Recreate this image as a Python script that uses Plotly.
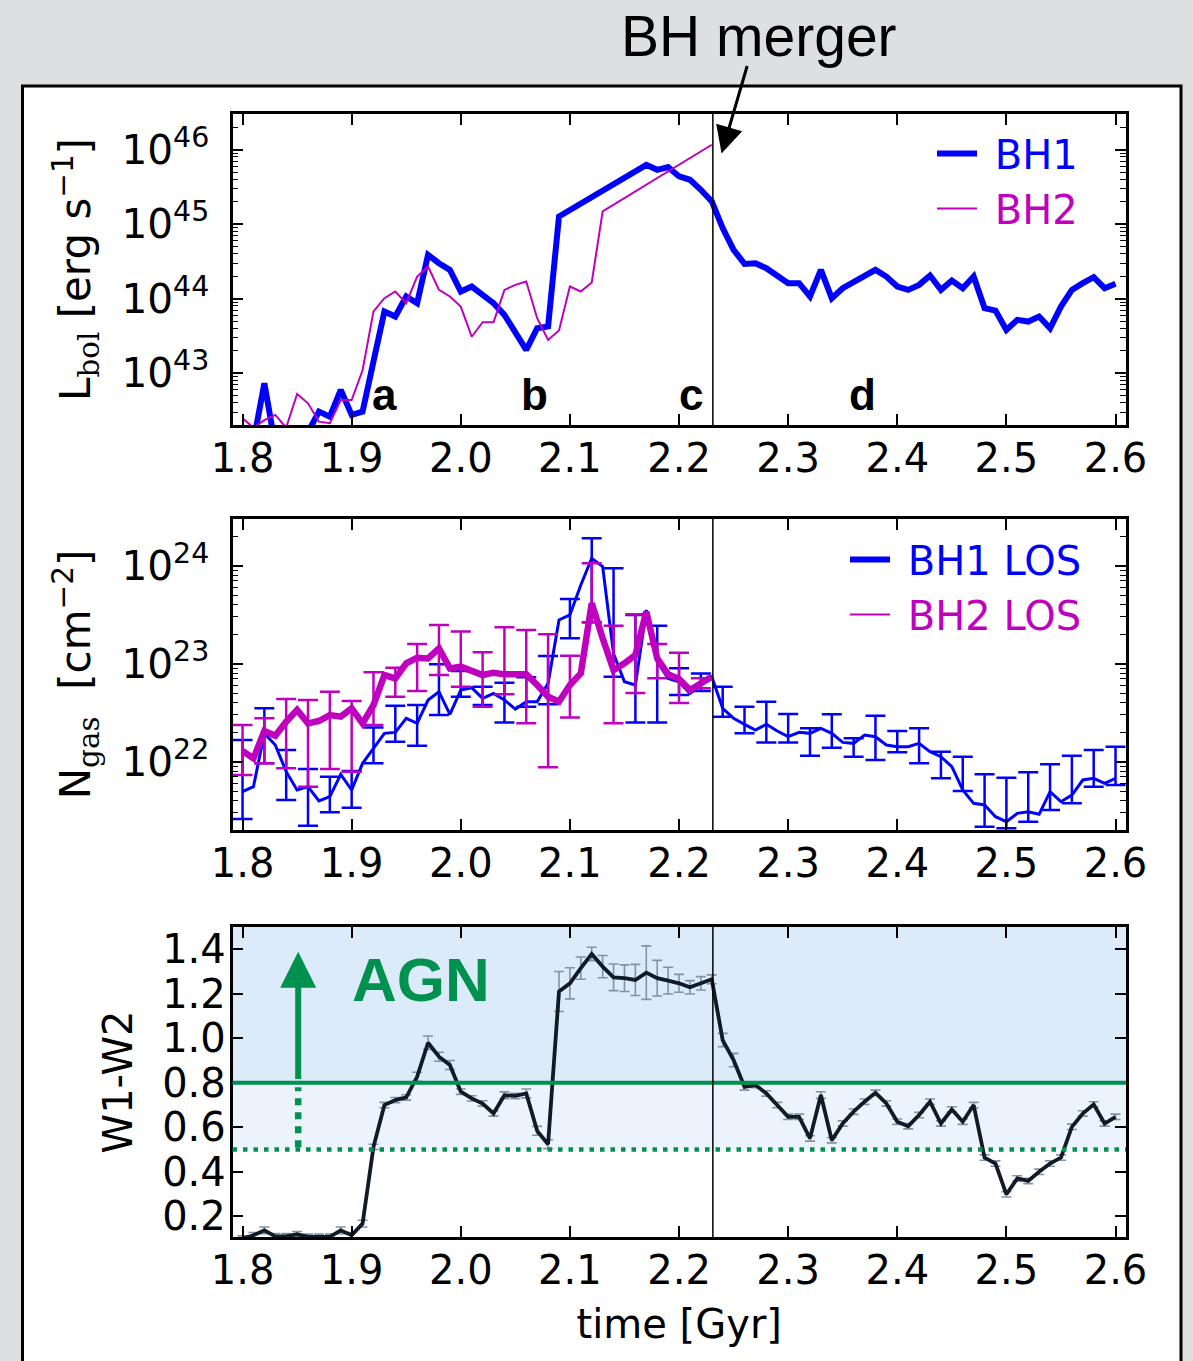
import numpy as np
import plotly.graph_objects as go

# ---------------- data ----------------
times = [1.80, 1.81, 1.82, 1.83, 1.84, 1.85, 1.86, 1.87, 1.88, 1.89,
         1.90, 1.91, 1.92, 1.93, 1.94, 1.95, 1.96, 1.97, 1.98, 1.99,
         2.00, 2.01, 2.02, 2.03, 2.04, 2.05, 2.06, 2.07, 2.08, 2.09,
         2.10, 2.11, 2.12, 2.13, 2.14, 2.15, 2.16, 2.17, 2.18, 2.19,
         2.20, 2.21, 2.22, 2.23, 2.24, 2.25, 2.26, 2.27, 2.28, 2.29,
         2.30, 2.31, 2.32, 2.33, 2.34, 2.35, 2.36, 2.37, 2.38, 2.39,
         2.40, 2.41, 2.42, 2.43, 2.44, 2.45, 2.46, 2.47, 2.48, 2.49,
         2.50, 2.51, 2.52, 2.53, 2.54, 2.55, 2.56, 2.57, 2.58, 2.59, 2.60]

merger_time = 2.231

# log10 L_bol [erg/s]
log_lbol_bh1 = [42.0, 42.08, 42.865, 42.03, 41.9, 41.9, 42.21, 42.485, 42.417, 42.776,
                42.44, 42.485, 43.16, 43.828, 43.761, 44.03, 43.94, 44.589, 44.477, 44.388,
                44.097, 44.164, 44.052, 43.94, 43.783, 43.559, 43.313, 43.604, 43.627, 45.104,
                None, None, None, None, None, None, None, 45.798, 45.731, 45.767,
                45.642, 45.597, 45.463, 45.306, 44.948, 44.657, 44.468, 44.477, 44.41, 44.321,
                44.209, 44.209, 44.03, 44.388, 44.007, 44.141, 44.231, 44.321, 44.388, 44.298,
                44.164, 44.119, 44.186, 44.312, 44.119, 44.244, 44.141, 44.298, 43.873, 43.841,
                43.582, 43.716, 43.694, 43.761, 43.604, 43.895, 44.119, 44.209, 44.289, 44.141, 44.2]
log_lbol_bh2 = [42.395, 42.27, 42.37, 42.44, 42.27, 42.722, 42.596, 42.35, 42.33, 42.64,
                42.64, 43.04, 43.83, 44.007, 44.097, 43.94, 44.298, 44.433, 44.119, 44.03,
                43.895, 43.49, 43.685, 43.685, 44.119, 44.186, 44.231, 43.739, 43.447, 43.573,
                44.164, 44.097, 44.218, 45.172, None, None, None, None, None, None,
                None, None, None, 46.067]

# log10 N_gas [cm^-2]
log_ngas_bh1 = [21.694, 21.745, 22.289, 22.17, 21.898, 21.711, 21.745, 21.599, 21.643, 21.871,
                21.711, 21.983, 22.136, 22.289, 22.299, 22.442, 22.391, 22.629, 22.714, 22.483,
                22.731, 22.755, 22.646, 22.697, 22.629, 22.537, 22.612, 22.612, 22.799, 23.446,
                23.497, 23.803, 24.075, 23.99, 23.1, 22.816, 22.782, 23.548, 23.02, 22.85,
                22.816, 22.697, 22.782, 22.867, 22.544, 22.442, 22.381, 22.323, 22.381, 22.313,
                22.255, 22.299, 22.289, 22.34, 22.289, 22.197, 22.187, 22.272, 22.255, 22.17,
                22.153, 22.153, 22.187, 22.102, 22.051, 21.949, 21.711, 21.575, 21.558, 21.439,
                21.388, 21.473, 21.49, 21.463, 21.694, 21.592, 21.66, 21.813, 21.83, 21.779, 21.83]
log_ngas_bh2 = [22.109, 22.034, 22.313, 22.265, 22.408, 22.527, 22.391, 22.415, 22.476, 22.459,
                22.544, 22.391, 22.578, 22.884, 22.85, 23.003, 23.061, 23.054, 23.156, 22.952,
                22.969, 22.925, 22.884, 22.908, 22.891, 22.891, 22.891, 22.782, 22.663, 22.612,
                22.782, 22.901, 23.616, 23.259, 22.935, 23.003, 23.088, 23.531, 23.054, 22.891,
                22.844, 22.731, 22.799, 22.867]

# error bars (every second snapshot), log10 upper / lower bounds
err_times_bh1 = [1.80, 1.82, 1.84, 1.86, 1.88, 1.90, 1.92, 1.94, 1.96, 1.98,
                 2.00, 2.02, 2.04, 2.06, 2.08, 2.10, 2.12, 2.14, 2.16, 2.18,
                 2.20, 2.22, 2.24, 2.26, 2.28, 2.30, 2.32, 2.34, 2.36, 2.38,
                 2.40, 2.42, 2.44, 2.46, 2.48, 2.50, 2.52, 2.54, 2.56, 2.58, 2.60]
log_ngas_bh1_hi = [22.221, 22.544, 22.119, 21.925, 21.847, 21.905, 22.350, 22.571, 22.578, 22.993,
                   22.925, 22.765, 22.806, 22.861, 23.078, 23.66, 24.279, 23.973, 23.497, 23.388,
                   22.952, 22.90, 22.765, 22.561, 22.612, 22.486, 22.34, 22.483, 22.238, 22.469,
                   22.313, 22.34, 22.102, 22.051, 21.871, 21.837, 21.891, 21.973, 22.061, 22.119, 22.153]
log_ngas_bh1_lo = [21.415, 21.983, 21.609, 21.347, 21.483, 21.531, 21.983, 22.204, 22.163, 22.476,
                   22.663, 22.578, 22.401, 22.561, 22.585, 23.259, 23.422, 22.867, 22.401, 22.401,
                   22.68, 22.72, 22.459, 22.289, 22.197, 22.197, 22.061, 22.143, 22.051, 22.017,
                   22.095, 21.983, 21.83, 21.701, 21.337, 21.32, 21.388, 21.507, 21.575, 21.745, 21.762]
err_times_bh2 = [1.80, 1.82, 1.84, 1.86, 1.88, 1.90, 1.92, 1.94, 1.96, 1.98,
                 2.00, 2.02, 2.04, 2.06, 2.08, 2.10, 2.12, 2.14, 2.16, 2.18, 2.20, 2.22]
log_ngas_bh2_hi = [22.374, 22.442, 22.639, 22.629, 22.714, 22.619, 22.912, 22.959, 23.201, 23.395,
                   23.327, 23.116, 23.371, 23.344, 23.299, 23.082, 24.024, 23.388, 23.503, 23.2,
                   23.112, 22.85]
log_ngas_bh2_lo = [21.864, 21.983, 21.932, 21.745, 21.925, 21.898, 22.374, 22.663, 22.721, 22.884,
                   22.765, 22.561, 22.687, 22.391, 21.942, 22.452, 23.422, 22.391, 22.7, 22.85,
                   22.6, 22.75]

# WISE colour
w1w2 = [0.10, 0.115, 0.137, 0.11, 0.11, 0.12, 0.108, 0.108, 0.108, 0.137,
        0.115, 0.167, 0.512, 0.70, 0.722, 0.734, 0.827, 0.98, 0.917, 0.88,
        0.76, 0.73, 0.707, 0.662, 0.744, 0.741, 0.752, 0.584, 0.524, 1.21,
        1.247, 1.315, 1.379, 1.322, 1.274, 1.27, 1.262, 1.295, 1.27, 1.259,
        1.247, 1.229, 1.247, 1.265, 0.992, 0.902, 0.782, 0.79, 0.752, 0.70,
        0.647, 0.647, 0.55, 0.745, 0.542, 0.617, 0.67, 0.715, 0.755, 0.707,
        0.625, 0.605, 0.655, 0.715, 0.617, 0.68, 0.625, 0.70, 0.464, 0.437,
        0.299, 0.37, 0.359, 0.40, 0.437, 0.464, 0.602, 0.662, 0.703, 0.617, 0.647]
w1w2_err = [0.012, 0.012, 0.015, 0.012, 0.012, 0.012, 0.012, 0.012, 0.012, 0.015,
            0.012, 0.015, 0.012, 0.012, 0.012, 0.012, 0.02, 0.03, 0.02, 0.02,
            0.012, 0.012, 0.012, 0.012, 0.015, 0.012, 0.02, 0.02, 0.02, 0.09,
            0.07, 0.05, 0.03, 0.05, 0.06, 0.06, 0.07, 0.12, 0.08, 0.06,
            0.04, 0.03, 0.03, 0.02, 0.03, 0.03, 0.015, 0.012, 0.012, 0.012,
            0.012, 0.012, 0.012, 0.015, 0.012, 0.012, 0.012, 0.012, 0.012, 0.012,
            0.012, 0.012, 0.012, 0.012, 0.012, 0.012, 0.012, 0.012, 0.012, 0.012,
            0.012, 0.012, 0.012, 0.012, 0.012, 0.012, 0.012, 0.012, 0.012, 0.012, 0.012]

agn_cut_strict = 0.8
agn_cut_loose = 0.5
stage_labels = ["a", "b", "c", "d"]
stage_times = [1.93, 2.068, 2.211, 2.368]

# ---------------- helpers ----------------
def to_lin(arr):
    return [None if v is None else 10 ** v for v in arr]

def err_parts(times_sub, hi, lo, center_log):
    idx = [times.index(t) for t in times_sub]
    cen = np.array([10 ** center_log[i] for i in idx])
    plus = np.clip(10 ** np.array(hi) - cen, 0, None)
    minus = np.clip(cen - 10 ** np.array(lo), 0, None)
    return list(cen), list(plus), list(minus)

BLUE = "#0000ff"
MAG = "#bf00bf"
GREEN = "#00914f"
DARK = "#101b27"
GREY = "#8393a5"
FONT = "DejaVu Sans"
NB = "\u00a0"

W, H = 1193, 1361
def px_x(x):
    return x / W
def px_y(y):
    return 1 - y / H

fig = go.Figure()

# ---- panel 1 ----
fig.add_trace(go.Scatter(x=times, y=to_lin(log_lbol_bh1), mode="lines", connectgaps=True,
                         line=dict(color=BLUE, width=6),
                         name=NB + "<span style='color:#0000ff'>BH1</span>",
                         xaxis="x", yaxis="y", legend="legend"))
fig.add_trace(go.Scatter(x=times[:len(log_lbol_bh2)], y=to_lin(log_lbol_bh2), mode="lines",
                         connectgaps=True, line=dict(color=MAG, width=2),
                         name=NB + "<span style='color:#bf00bf'>BH2</span>",
                         xaxis="x", yaxis="y", legend="legend"))

# ---- panel 2 ----
c1, p1, m1 = err_parts(err_times_bh1, log_ngas_bh1_hi, log_ngas_bh1_lo, log_ngas_bh1)
c2, p2, m2 = err_parts(err_times_bh2, log_ngas_bh2_hi, log_ngas_bh2_lo, log_ngas_bh2)
fig.add_trace(go.Scatter(x=err_times_bh1, y=c1, mode="markers", marker=dict(size=1, opacity=0),
                         error_y=dict(type="data", symmetric=False, array=p1, arrayminus=m1,
                                      color=BLUE, thickness=2.5, width=10),
                         showlegend=False, hoverinfo="skip", xaxis="x2", yaxis="y2"))
fig.add_trace(go.Scatter(x=times, y=to_lin(log_ngas_bh1), mode="lines",
                         line=dict(color=BLUE, width=3), showlegend=False,
                         xaxis="x2", yaxis="y2"))
fig.add_trace(go.Scatter(x=err_times_bh2, y=c2, mode="markers", marker=dict(size=1, opacity=0),
                         error_y=dict(type="data", symmetric=False, array=p2, arrayminus=m2,
                                      color=MAG, thickness=2.5, width=10),
                         showlegend=False, hoverinfo="skip", xaxis="x2", yaxis="y2"))
fig.add_trace(go.Scatter(x=times[:len(log_ngas_bh2)], y=to_lin(log_ngas_bh2), mode="lines",
                         line=dict(color=MAG, width=6.5), showlegend=False,
                         xaxis="x2", yaxis="y2"))
# legend entries for panel 2
fig.add_trace(go.Scatter(x=[None], y=[None], mode="lines", line=dict(color=BLUE, width=6),
                         name=NB + "<span style='color:#0000ff'>BH1 LOS</span>",
                         xaxis="x2", yaxis="y2", legend="legend2"))
fig.add_trace(go.Scatter(x=[None], y=[None], mode="lines", line=dict(color=MAG, width=2),
                         name=NB + "<span style='color:#bf00bf'>BH2 LOS</span>",
                         xaxis="x2", yaxis="y2", legend="legend2"))

# ---- panel 3 ----
fig.add_trace(go.Scatter(x=times, y=w1w2, mode="markers", marker=dict(size=1, opacity=0),
                         error_y=dict(type="data", array=w1w2_err, color=GREY,
                                      thickness=1.6, width=5),
                         showlegend=False, hoverinfo="skip", xaxis="x3", yaxis="y3"))
fig.add_trace(go.Scatter(x=times, y=w1w2, mode="lines", line=dict(color=DARK, width=3.8),
                         showlegend=False, xaxis="x3", yaxis="y3"))

# ---------------- axes ----------------
xdom = [px_x(232.5), px_x(1126)]
dom1 = [px_y(425), px_y(114)]
dom2 = [px_y(830), px_y(519)]
dom3 = [px_y(1237), px_y(927)]

common = dict(showgrid=False, zeroline=False, showline=True, linecolor="black", linewidth=2.5,
              mirror="ticks", ticks="inside", ticklen=11, tickwidth=1.5, tickcolor="black",
              automargin=False)
xcommon = dict(common, range=[1.7908, 2.6096], tick0=1.8, dtick=0.1, tickformat=".1f",
               tickfont=dict(family=FONT, size=40, color="black"), ticklabelstandoff=-4)

fig.update_layout(
    xaxis=dict(xcommon, domain=xdom, anchor="y"),
    xaxis2=dict(xcommon, domain=xdom, anchor="y2"),
    xaxis3=dict(xcommon, domain=xdom, anchor="y3",
                title=dict(text="time [Gyr]", font=dict(family=FONT, size=40, color="black"),
                           standoff=19)),
    yaxis=dict(common, type="log", domain=dom1, anchor="x", range=[42.305, 46.48], dtick=1,
               exponentformat="power",
               tickfont=dict(family=FONT, size=32.5, color="black"), ticklabelstandoff=14,
               minor=dict(ticks="inside", ticklen=6, tickwidth=1.2, tickcolor="black", dtick="D1"),
               title=dict(text="L<sub><span style='font-family:DejaVu Serif'>bol</span></sub> [erg s<sup>−1</sup>]",
                          font=dict(family=FONT, size=42, color="black"), standoff=18)),
    yaxis2=dict(common, type="log", domain=dom2, anchor="x2", range=[21.303, 24.476], dtick=1,
                exponentformat="power",
                tickfont=dict(family=FONT, size=32.5, color="black"), ticklabelstandoff=14,
                minor=dict(ticks="inside", ticklen=6, tickwidth=1.2, tickcolor="black", dtick="D1"),
                title=dict(text="N<sub><span style='font-family:DejaVu Serif'>gas</span></sub>  [cm<sup>−2</sup>]",
                           font=dict(family=FONT, size=42, color="black"), standoff=18)),
    yaxis3=dict(common, domain=dom3, anchor="x3", range=[0.107, 1.5], tick0=0.2, dtick=0.2,
                tickformat=".1f", tickfont=dict(family=FONT, size=40, color="black"),
                ticklabelstandoff=-4,
                title=dict(text="W1-W2", font=dict(family=FONT, size=40, color="black"),
                           standoff=18)),
)

# ---------------- shapes ----------------
shapes = [
    dict(type="rect", xref="paper", yref="paper", x0=px_x(22.5), x1=px_x(1181),
         y0=-0.05, y1=px_y(86), fillcolor="white", line=dict(color="black", width=3),
         layer="below"),
    dict(type="rect", xref="x3 domain", yref="y3", x0=0, x1=1, y0=agn_cut_strict, y1=1.5,
         fillcolor="#dbebfa", line=dict(width=0), layer="below"),
    dict(type="rect", xref="x3 domain", yref="y3", x0=0, x1=1, y0=agn_cut_loose, y1=agn_cut_strict,
         fillcolor="#ebf4fd", line=dict(width=0), layer="below"),
    dict(type="line", xref="x3 domain", yref="y3", x0=0, x1=1, y0=agn_cut_strict, y1=agn_cut_strict,
         line=dict(color=GREEN, width=4)),
    dict(type="line", xref="x3 domain", yref="y3", x0=0, x1=1, y0=agn_cut_loose, y1=agn_cut_loose,
         line=dict(color=GREEN, width=4.5, dash="4.5px,6px")),
    dict(type="line", xref="x3", yref="y3", x0=1.851, x1=1.851, y0=agn_cut_loose + 0.01,
         y1=agn_cut_strict - 0.02, line=dict(color=GREEN, width=6.5, dash="7px,7px")),
]
for xr, yr in [("x", "y domain"), ("x2", "y2 domain"), ("x3", "y3 domain")]:
    shapes.append(dict(type="line", xref=xr, yref=yr, x0=merger_time, x1=merger_time, y0=0, y1=1,
                       line=dict(color="black", width=1.5)))

# ---------------- annotations ----------------
annotations = []
for lab, t in zip(stage_labels, stage_times):
    annotations.append(dict(x=t, y=42.72, xref="x", yref="y", text="<b>%s</b>" % lab,
                            showarrow=False, xanchor="center", yanchor="middle",
                            font=dict(family="Liberation Sans", size=44, color="black")))
annotations.append(dict(x=px_x(759), y=px_y(36), xref="paper", yref="paper", text="BH merger",
                        showarrow=False, xanchor="center", yanchor="middle",
                        font=dict(family="Liberation Sans", size=57, color="black")))
annotations.append(dict(x=2.239, y=45.95, xref="x", yref="y", ax=26, ay=-89, text="",
                        showarrow=True, arrowhead=2, arrowsize=1.8, arrowwidth=3,
                        arrowcolor="black", standoff=0))
annotations.append(dict(x=1.9636, y=1.262, xref="x3", yref="y3", text="<b>AGN</b>",
                        showarrow=False, xanchor="center", yanchor="middle",
                        font=dict(family="Liberation Sans", size=62, color=GREEN)))
annotations.append(dict(x=1.851, y=1.389, xref="x3", yref="y3", ax=1.851, ay=0.81,
                        axref="x3", ayref="y3", text="", showarrow=True, arrowhead=2,
                        arrowsize=1.2, arrowwidth=6, arrowcolor=GREEN, standoff=0))

fig.update_layout(
    width=W, height=H, autosize=False,
    margin=dict(l=0, r=0, t=0, b=0, pad=0, autoexpand=False),
    paper_bgcolor="#dedfe1", plot_bgcolor="rgba(0,0,0,0)",
    shapes=shapes, annotations=annotations,
    legend=dict(x=px_x(932), y=px_y(121), xanchor="left", yanchor="top", itemwidth=40,
                font=dict(family=FONT, size=40), bgcolor="rgba(0,0,0,0)", tracegroupgap=0),
    legend2=dict(x=px_x(845), y=px_y(527), xanchor="left", yanchor="top", itemwidth=40,
                 font=dict(family=FONT, size=40), bgcolor="rgba(0,0,0,0)", tracegroupgap=0),
)

fig.write_html("out.html")
